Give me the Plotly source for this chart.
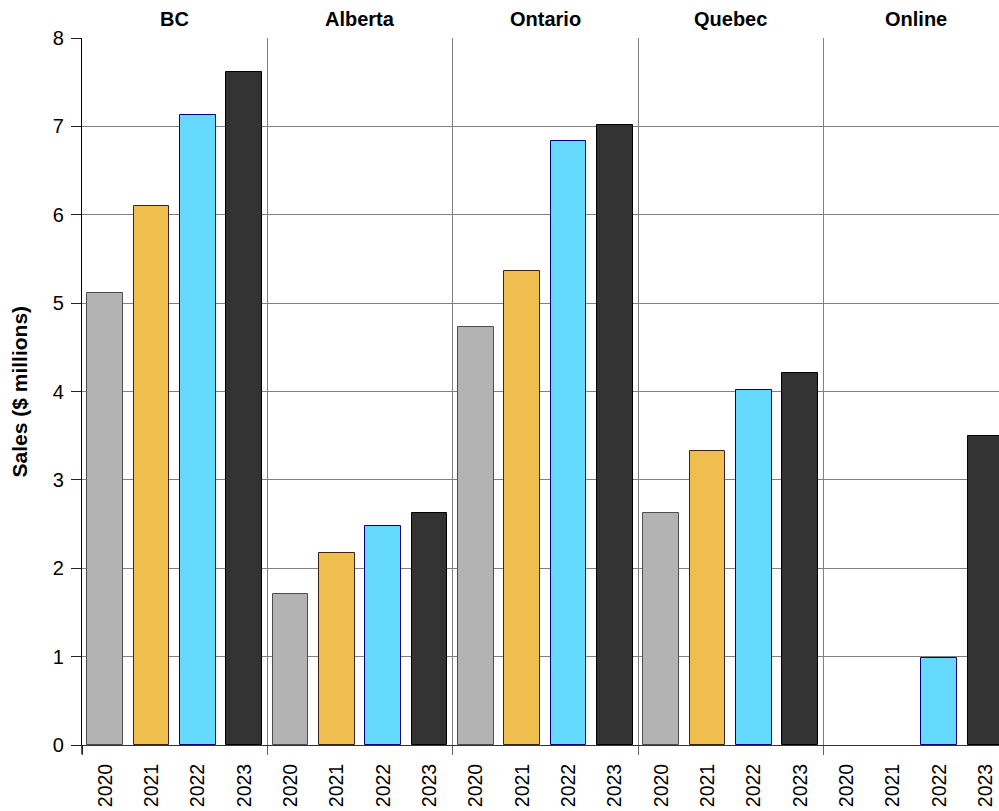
import plotly.graph_objects as go

# Sales by region and year ($ millions)
regions = ["BC", "Alberta", "Ontario", "Quebec", "Online"]
years = ["2020", "2021", "2022", "2023"]
sales_2020 = [5.12, 1.71, 4.73, 2.63, 0.0]
sales_2021 = [6.10, 2.17, 5.36, 3.33, 0.0]
sales_2022 = [7.13, 2.48, 6.84, 4.02, 0.98]
sales_2023 = [7.62, 2.63, 7.01, 4.21, 3.50]

series = [sales_2020, sales_2021, sales_2022, sales_2023]
fills = ["#b3b3b3", "#f0be4e", "#66d9ff", "#333333"]
outlines = ["#4d4d4d", "#3d2314", "#000080", "#000000"]

n_years = len(years)
FONT = "Liberation Sans, Arial, Helvetica, sans-serif"

fig = go.Figure()

# one bar trace per year, positioned inside each region's block
for yi, (vals, fc, lc) in enumerate(zip(series, fills, outlines)):
    xs = [gi * n_years + yi for gi in range(len(regions))]
    # empty (zero) bars get no outline
    widths = [1 if v > 0 else 0 for v in vals]
    fig.add_trace(go.Bar(
        x=xs, y=vals, width=0.77,
        marker=dict(color=fc, line=dict(color=lc, width=widths)),
        name=years[yi], showlegend=False, hoverinfo="y",
    ))

# invisible helper trace so the region-separator axis is drawn
fig.add_trace(go.Scatter(x=[0], y=[0], xaxis="x2", mode="markers",
                         marker=dict(opacity=0), showlegend=False,
                         hoverinfo="skip"))

bar_centers = [gi * n_years + yi for gi in range(len(regions)) for yi in range(n_years)]
bar_labels = [years[yi] for gi in range(len(regions)) for yi in range(n_years)]
boundaries = [gi * n_years - 0.5 for gi in range(len(regions))]

x_range = [-0.5, 19.29]

fig.update_layout(
    width=999, height=811,
    margin=dict(l=82, r=0, t=38, b=66, autoexpand=False),
    plot_bgcolor="white", paper_bgcolor="white",
    font=dict(family=FONT, color="black"),
    bargap=0,
    xaxis=dict(
        range=x_range, tickvals=bar_centers, ticktext=bar_labels,
        tickangle=-90, tickfont=dict(size=19.5, family=FONT),
        ticks="outside", ticklen=10, tickcolor="rgba(0,0,0,0)",
        showgrid=False, zeroline=False, automargin=False,
        showline=True, linecolor="#333333", linewidth=1,
    ),
    xaxis2=dict(
        range=x_range, overlaying="x", side="bottom",
        tickvals=boundaries, showticklabels=False, automargin=False,
        ticks="outside", ticklen=9, tickcolor="#666666", tickwidth=1,
        showgrid=True, gridcolor="#808080", gridwidth=1.2,
        zeroline=False, showline=False, layer="below traces",
    ),
    yaxis=dict(
        range=[0, 8], dtick=1, tick0=0, automargin=False,
        tickfont=dict(size=20, family=FONT),
        ticks="outside", ticklen=10, tickcolor="#222222",
        ticklabelstandoff=3,
        showgrid=True, gridcolor="#808080", gridwidth=1.2,
        zeroline=False,
        showline=True, linecolor="black", linewidth=1.3,
    ),
)

# left axis line continues as a tick below the baseline
fig.add_shape(type="line", xref="paper", yref="paper",
              x0=0, x1=0, y0=0, y1=-0.013,
              line=dict(color="black", width=1.3))

# region headers
for gi, name in enumerate(regions):
    fig.add_annotation(
        x=gi * n_years + (n_years - 1) / 2, y=1, xref="x", yref="paper",
        text=f"<b>{name}</b>", showarrow=False,
        yanchor="middle", yshift=19,
        font=dict(size=20, family=FONT, color="black"),
    )

# y-axis title
fig.add_annotation(
    x=0, y=0.5, xref="paper", yref="paper", xshift=-63,
    text="<b>Sales ($ millions)</b>", textangle=-90, showarrow=False,
    xanchor="center", yanchor="middle",
    font=dict(size=21, family=FONT, color="black"),
)

fig.write_html("out.html")
